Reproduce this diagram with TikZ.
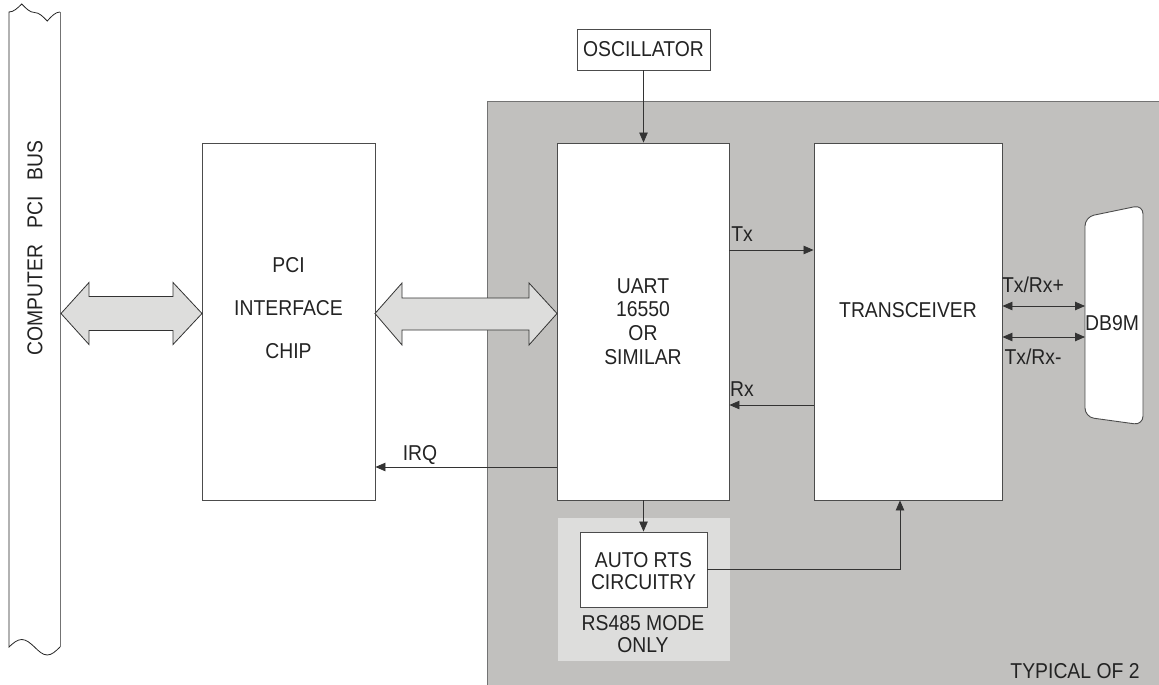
\documentclass[tikz,border=0pt]{standalone}
\usepackage{fontspec}
\setmainfont[FakeStretch=0.9]{Liberation Sans}
\usetikzlibrary{arrows.meta}
\definecolor{region}{RGB}{193,192,190}
\definecolor{lightbg}{RGB}{221,221,220}
\definecolor{ink}{RGB}{35,35,35}
\begin{document}
\begin{tikzpicture}[x=1pt,y=-1pt,
  every node/.style={font=\fontsize{21.5}{24}\selectfont, text=ink, inner sep=0pt},
  box/.style={draw=black!70, line width=0.9pt, fill=white},
  conn/.style={draw=black!80, line width=0.8pt, -{Triangle[length=10pt,width=8.5pt]}},
  dconn/.style={draw=black!80, line width=0.8pt, {Triangle[length=10pt,width=8.5pt]}-{Triangle[length=10pt,width=8.5pt]}},
  blk/.style={draw=black!80, line width=0.8pt, fill=lightbg, line join=miter}]
\useasboundingbox (0,0) rectangle (1159,685);
% card region
\fill[region] (487,101) rectangle (1159,685);
\draw[black!55, line width=0.8pt] (487,685) -- (487,101) -- (1159,101);
% bus
\fill[white] (9,12) sin (21.75,4) cos (34.5,12.5) sin (47.25,21) cos (60,12) -- (60,647) sin (47.25,655) cos (34.5,647) sin (21.75,639.5) cos (9,647) -- cycle;
\draw[black!85, line width=0.8pt] (60,12) cos (47.25,21) sin (34.5,12.5) cos (21.75,4) sin (9,12) -- (9,647) sin (21.75,639.5) cos (34.5,647) sin (47.25,655) cos (60,647);
\draw[black!55, line width=1pt] (60,12) -- (60,647);
\node[rotate=90] (bus) at (35,248) {COMPUTER\ \ \ PCI\ \ \ BUS};
% boxes
\node[box, minimum width=173pt, minimum height=357pt] (pci) at (288.5,321.5) {};
\node[box, minimum width=172pt, minimum height=357pt] (uart) at (643,321.5) {};
\node[box, minimum width=188pt, minimum height=357pt] (trx) at (908,321.5) {};
\node[box, minimum width=133pt, minimum height=41pt] (osc) at (643.5,49.5) {OSCILLATOR};
\fill[lightbg] (558,518) rectangle (730,661);
\node[box, minimum width=127pt, minimum height=75pt] (rts) at (643.5,569.5) {};
% texts in boxes
\node (pcit1) at (288.5,265) {PCI};
\node (pcit2) at (288.5,308) {INTERFACE};
\node (pcit3) at (288.5,351) {CHIP};
\node[align=center, font=\fontsize{21.5}{23.7}\selectfont] (uartt) at (643,321.5) {UART\\16550\\OR\\SIMILAR};
\node (trxt) at (908,310) {TRANSCEIVER};
\node[align=center, font=\fontsize{21.5}{22}\selectfont] (rtst) at (643.5,571) {AUTO RTS\\CIRCUITRY};
\node[align=center, font=\fontsize{21.5}{22}\selectfont] (mode) at (643,634) {RS485 MODE\\ONLY};
\node (typ) at (1075,671) {TYPICAL OF 2};
% DB9M connector
\draw[black!70, line width=0.9pt, fill=white, rounded corners=9pt] (1085,217) -- (1143,205) -- (1143,425) -- (1085,417) -- cycle;
\node (db) at (1112,323) {DB9M};
% block arrows
\draw[blk] (61,313.5) -- (89,282.5) -- (89,296.5) -- (173,296.5) -- (173,282.5) -- (202,313.5) -- (173,344.5) -- (173,330.5) -- (89,330.5) -- (89,344.5) -- cycle;
\draw[blk] (375,313.5) -- (402,283) -- (402,298) -- (529,298) -- (529,283) -- (557,313.5) -- (529,345) -- (529,330) -- (402,330) -- (402,345) -- cycle;
% connectors
\draw[conn] (osc.south) -- (osc.south |- uart.north);
\node (txl) at (742,234) {Tx};
\draw[conn] (uart.east |- 0,250) -- (trx.west |- 0,250);
\node (rxl) at (742,389) {Rx};
\draw[conn] (trx.west |- 0,405) -- (uart.east |- 0,405);
\node (irql) at (420,455) {IRQ};
\draw[conn] (uart.west |- 0,467) -- (pci.east |- 0,467);
\draw[conn] (uart.south -| rts.north) -- (rts.north);
\draw[conn] (rts.east) -| ([xshift=-8pt]trx.south);
\node (tp) at (1033,285) {Tx/Rx+};
\node (tm) at (1033,357) {Tx/Rx-};
\draw[dconn] (trx.east |- 0,306) -- (1085,306);
\draw[dconn] (trx.east |- 0,337) -- (1085,337);
\end{tikzpicture}
\end{document}
